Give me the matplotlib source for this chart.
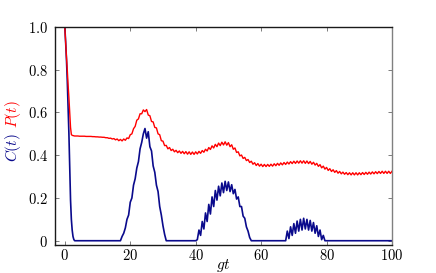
import numpy as np
import matplotlib
matplotlib.use("Agg")
import matplotlib.pyplot as plt

plt.rcParams['mathtext.fontset'] = 'cm'
plt.rcParams['font.family'] = ['DejaVu Serif']

# time grid: fine head for the initial drop, then step 0.5 from 3.0 to 100.0
t_head = [0.0, 0.25, 0.5, 0.75, 1.0, 1.25, 1.5, 1.75, 2.0, 2.25, 2.5, 2.75]
t_body = np.arange(3.0, 100.001, 0.5)

P_head = [1.0, 0.93, 0.86, 0.80, 0.73, 0.67, 0.60, 0.53, 0.497, 0.493, 0.492, 0.491]
C_head = [1.0, 0.93, 0.85, 0.75, 0.63, 0.50, 0.35, 0.19, 0.10, 0.05, 0.02, 0.006]

P_body = [
    0.490, 0.490, 0.490, 0.489, 0.489, 0.489, 0.489, 0.488, 0.488, 0.488,
    0.488, 0.487, 0.487, 0.486, 0.486, 0.485, 0.485, 0.484, 0.484, 0.482,
    0.482, 0.479, 0.480, 0.476, 0.478, 0.472, 0.476, 0.468, 0.474, 0.467,
    0.476, 0.470, 0.481, 0.478, 0.496, 0.500, 0.524, 0.535, 0.564, 0.570,
    0.594, 0.594, 0.612, 0.604, 0.614, 0.588, 0.585, 0.558, 0.556, 0.530,
    0.528, 0.500, 0.496, 0.468, 0.466, 0.445, 0.446, 0.430, 0.436, 0.422,
    0.428, 0.416, 0.423, 0.412, 0.420, 0.409, 0.418, 0.407, 0.417, 0.405,
    0.416, 0.404, 0.415, 0.404, 0.416, 0.406, 0.418, 0.409, 0.422, 0.414,
    0.428, 0.420, 0.436, 0.427, 0.444, 0.434, 0.451, 0.440, 0.457, 0.445,
    0.461, 0.448, 0.463, 0.447, 0.459, 0.440, 0.449, 0.428, 0.434, 0.413,
    0.416, 0.397, 0.401, 0.385, 0.390, 0.375, 0.380, 0.366, 0.372, 0.358,
    0.365, 0.352, 0.361, 0.349, 0.358, 0.347, 0.357, 0.347, 0.357, 0.348,
    0.358, 0.349, 0.360, 0.351, 0.362, 0.353, 0.364, 0.355, 0.366, 0.357,
    0.368, 0.359, 0.370, 0.361, 0.372, 0.362, 0.373, 0.363, 0.374, 0.363,
    0.374, 0.362, 0.373, 0.361, 0.371, 0.358, 0.367, 0.354, 0.362, 0.348,
    0.356, 0.341, 0.349, 0.335, 0.343, 0.329, 0.337, 0.324, 0.332, 0.320,
    0.328, 0.316, 0.324, 0.313, 0.321, 0.311, 0.319, 0.309, 0.318, 0.308,
    0.318, 0.308, 0.318, 0.308, 0.318, 0.309, 0.319, 0.310, 0.320, 0.311,
    0.321, 0.312, 0.322, 0.313, 0.323, 0.314, 0.324, 0.315, 0.325, 0.315,
    0.325, 0.315, 0.325, 0.315, 0.325,
]

C_body = [
    0.0, 0.0, 0.0, 0.0, 0.0, 0.0, 0.0, 0.0, 0.0, 0.0,
    0.0, 0.0, 0.0, 0.0, 0.0, 0.0, 0.0, 0.0, 0.0, 0.0,
    0.0, 0.0, 0.0, 0.0, 0.0, 0.0, 0.0, 0.0, 0.0, 0.02,
    0.035, 0.06, 0.10, 0.12, 0.18, 0.20, 0.26, 0.29, 0.34, 0.37,
    0.43, 0.46, 0.50, 0.525, 0.48, 0.51, 0.44, 0.42, 0.35, 0.32,
    0.26, 0.23, 0.16, 0.12, 0.07, 0.03, 0.0, 0.0, 0.0, 0.0,
    0.0, 0.0, 0.0, 0.0, 0.0, 0.0, 0.0, 0.0, 0.0, 0.0,
    0.0, 0.0, 0.0, 0.0, 0.0, 0.005, 0.05, 0.025, 0.09, 0.055,
    0.13, 0.09, 0.17, 0.125, 0.205, 0.16, 0.235, 0.19, 0.255, 0.21,
    0.27, 0.225, 0.278, 0.235, 0.275, 0.23, 0.262, 0.22, 0.24, 0.195,
    0.205, 0.16, 0.16, 0.115, 0.105, 0.065, 0.045, 0.015, 0.0, 0.0,
    0.0, 0.0, 0.0, 0.0, 0.0, 0.0, 0.0, 0.0, 0.0, 0.0,
    0.0, 0.0, 0.0, 0.0, 0.0, 0.0, 0.0, 0.0, 0.0, 0.0,
    0.045, 0.01, 0.065, 0.025, 0.08, 0.035, 0.092, 0.045, 0.10, 0.05,
    0.105, 0.055, 0.10, 0.05, 0.095, 0.045, 0.085, 0.035, 0.07, 0.02,
    0.05, 0.005, 0.025, 0.0, 0.0, 0.0, 0.0, 0.0, 0.0, 0.0,
    0.0, 0.0, 0.0, 0.0, 0.0, 0.0, 0.0, 0.0, 0.0, 0.0,
    0.0, 0.0, 0.0, 0.0, 0.0, 0.0, 0.0, 0.0, 0.0, 0.0,
    0.0, 0.0, 0.0, 0.0, 0.0, 0.0, 0.0, 0.0, 0.0, 0.0,
    0.0, 0.0, 0.0, 0.0, 0.0,
]

x_ticks = [0, 20, 40, 60, 80, 100]
x_tick_labels = ['$0$', '$20$', '$40$', '$60$', '$80$', '$100$']
y_ticks = [0.0, 0.2, 0.4, 0.6, 0.8, 1.0]
y_tick_labels = ['$0$', '$0.2$', '$0.4$', '$0.6$', '$0.8$', '$1.0$']

t = np.concatenate([t_head, t_body])
P = np.concatenate([P_head, P_body])
C = np.concatenate([C_head, C_body])

fig = plt.figure(figsize=(4.36, 2.73), dpi=100)
ax = fig.add_axes([55/436, 1-245/273, (392-55)/436, (245-27)/273])

ax.plot(t, C, color='#0a0a8c', lw=1.2)
ax.plot(t, P, color='#ff0000', lw=1.0)

ax.set_xlim(-3, 100)
ax.set_ylim(-0.02, 1.0)
ax.set_xticks(x_ticks)
ax.set_xticklabels(x_tick_labels, fontsize=10.5)
ax.set_yticks(y_ticks)
ax.set_yticklabels(y_tick_labels, fontsize=10.5)
ax.tick_params(direction='in', top=True, right=True, length=3, width=0.6,
               color='0.4')
ax.tick_params(axis='x', pad=2)
ax.tick_params(axis='y', pad=5)
for s in ['left', 'bottom', 'top']:
    ax.spines[s].set_linewidth(1.0)
    ax.spines[s].set_color('0.1')
ax.spines['right'].set_linewidth(1.0)
ax.spines['right'].set_color('0.5')

fig.text(223/436, 1-265/273, '$gt$', ha='center', va='center', fontsize=11)
fig.text(13/436, 1-148/273, '$C(t)$', color='#0a0a8c', rotation=90,
         ha='center', va='center', fontsize=11)
fig.text(13/436, 1-114/273, '$P(t)$', color='#ff0000', rotation=90,
         ha='center', va='center', fontsize=11)

fig.savefig('out.png', dpi=100)
